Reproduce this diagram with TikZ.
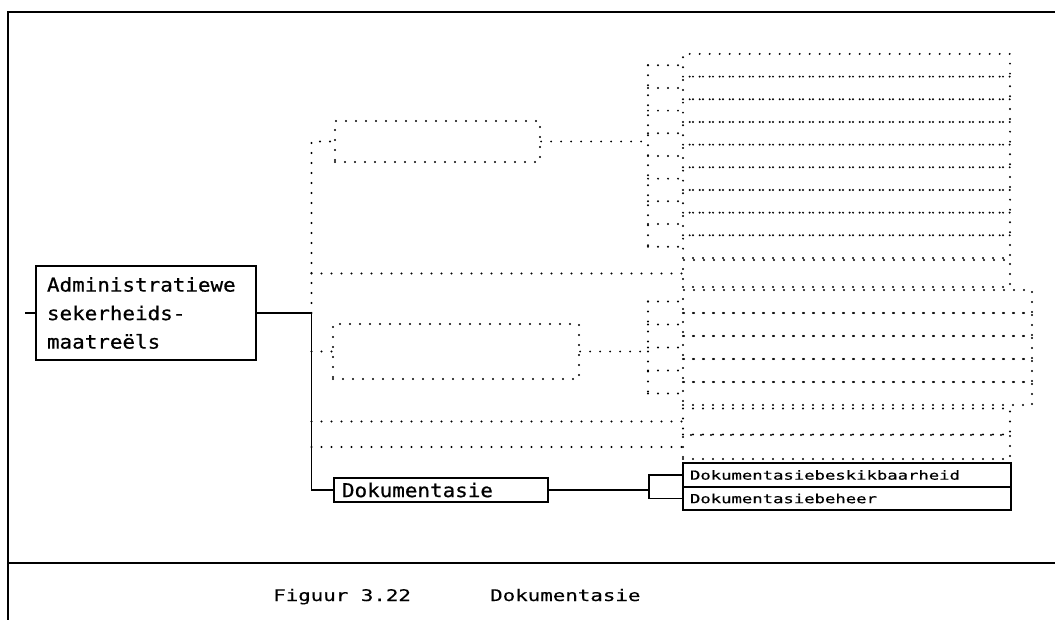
\documentclass[tikz,border=0pt]{standalone}
\usepackage{fontspec}
\newfontfamily\bigf[FakeStretch=1.1,FakeBold=0.6]{DejaVu Sans Mono}
\newfontfamily\leaff[FakeStretch=1.38,FakeBold=0.5]{DejaVu Sans Mono}
\newfontfamily\capf[FakeStretch=1.3,FakeBold=0.4]{DejaVu Sans Mono}
\begin{document}
\begin{tikzpicture}[x=1pt,y=-1pt,
  sline/.style={line width=1.4pt, black},
  dline/.style={line width=2.2pt, line cap=round, dash pattern=on 0pt off 10pt},
  frame/.style={line width=2pt, black},
  dbox/.style={draw, dline, inner sep=0pt},
  sbox/.style={draw, sline, inner ysep=0pt, align=left},
  bigtext/.style={font=\bigf\fontsize{19}{28.5}\selectfont},
  leaftext/.style={font=\leaff\fontsize{12.5}{14}\selectfont},
  captext/.style={font=\capf\fontsize{16}{18}\selectfont, inner sep=0pt, anchor=base west}
]
\useasboundingbox (0,0) rectangle (1055,620);
% frame
\draw[frame] (1055,12) -- (8,12) -- (8,620);
\draw[frame] (8,563) -- (1055,563);
% solid nodes
\node[sbox, bigtext, minimum width=220pt, minimum height=94pt, text width=198pt, inner xsep=11pt] (adm) at (146,313) {Administratiewe\\sekerheids-\\maatreëls};
\node[sbox, bigtext, minimum width=214pt, minimum height=24pt, text width=198pt, inner xsep=8pt] (doc) at (441,490) {Dokumentasie};
\node[sbox, leaftext, minimum width=328pt, minimum height=24pt, text width=314pt, inner xsep=7pt] (l1) at (847,475) {Dokumentasiebeskikbaarheid};
\node[sbox, leaftext, minimum width=328pt, minimum height=23pt, text width=314pt, inner xsep=7pt] (l2) at (847,498.5) {Dokumentasiebeheer};
% dotted nodes
\node[dbox, minimum width=205pt, minimum height=41pt] (b1) at (437.5,141.5) {};
\node[dbox, minimum width=246pt, minimum height=55pt] (b2) at (456,351.5) {};
\foreach \i in {1,...,9}
  \node[dbox, minimum width=327pt, minimum height=22.67pt] (ga\i) at (846.5,{65.3+22.67*(\i-1)}) {};
\foreach \i in {1,...,5}
  \node[dbox, minimum width=349pt, minimum height=23pt] (gb\i) at (857.5,{301.5+23*(\i-1)}) {};
\node[dbox, minimum width=327pt, minimum height=27pt] (d1) at (846.5,273.5) {};
\node[dbox, minimum width=327pt, minimum height=26pt] (d2) at (846.5,421.5) {};
\node[dbox, minimum width=327pt, minimum height=24pt] (d3) at (846.5,447) {};
% coordinates
\coordinate (stub) at (25,313);
\coordinate (jn) at (311.5,313);
\coordinate (g1) at (648,141.5);
\coordinate (g2) at (648,351.5);
\coordinate (bj) at (649,490);
% solid connectors
\draw[sline] (stub) -- (adm.west);
\draw[sline] (adm.east) -- (jn) |- (doc.west);
\draw[sline] (doc.east) -- (bj);
\draw[sline] (l1.west) -| (bj) |- (l2.west);
% dotted connectors
\draw[dline] (jn) |- (b1.west);
\draw[dline] (b1.east) -- (g1);
\draw[dline] (ga1.west -| g1) -- (ga9.west -| g1);
\foreach \i in {1,...,9}
  \draw[dline] (ga\i.west -| g1) -- (ga\i.west);
\draw[dline] (jn |- b2.west) -- (b2.west);
\draw[dline] (b2.east) -- (g2);
\draw[dline] (gb1.west -| g2) -- (gb5.west -| g2);
\foreach \i in {1,...,5}
  \draw[dline] (gb\i.west -| g2) -- (gb\i.west);
\draw[dline] (jn |- d1.west) -- (d1.west);
\draw[dline] (jn |- d2.west) -- (d2.west);
\draw[dline] (jn |- d3.west) -- (d3.west);
% caption
\node[captext] (cap1) at (273,601) {Figuur 3.22};
\node[captext] (cap2) at (490,601) {Dokumentasie};
\end{tikzpicture}
\end{document}
